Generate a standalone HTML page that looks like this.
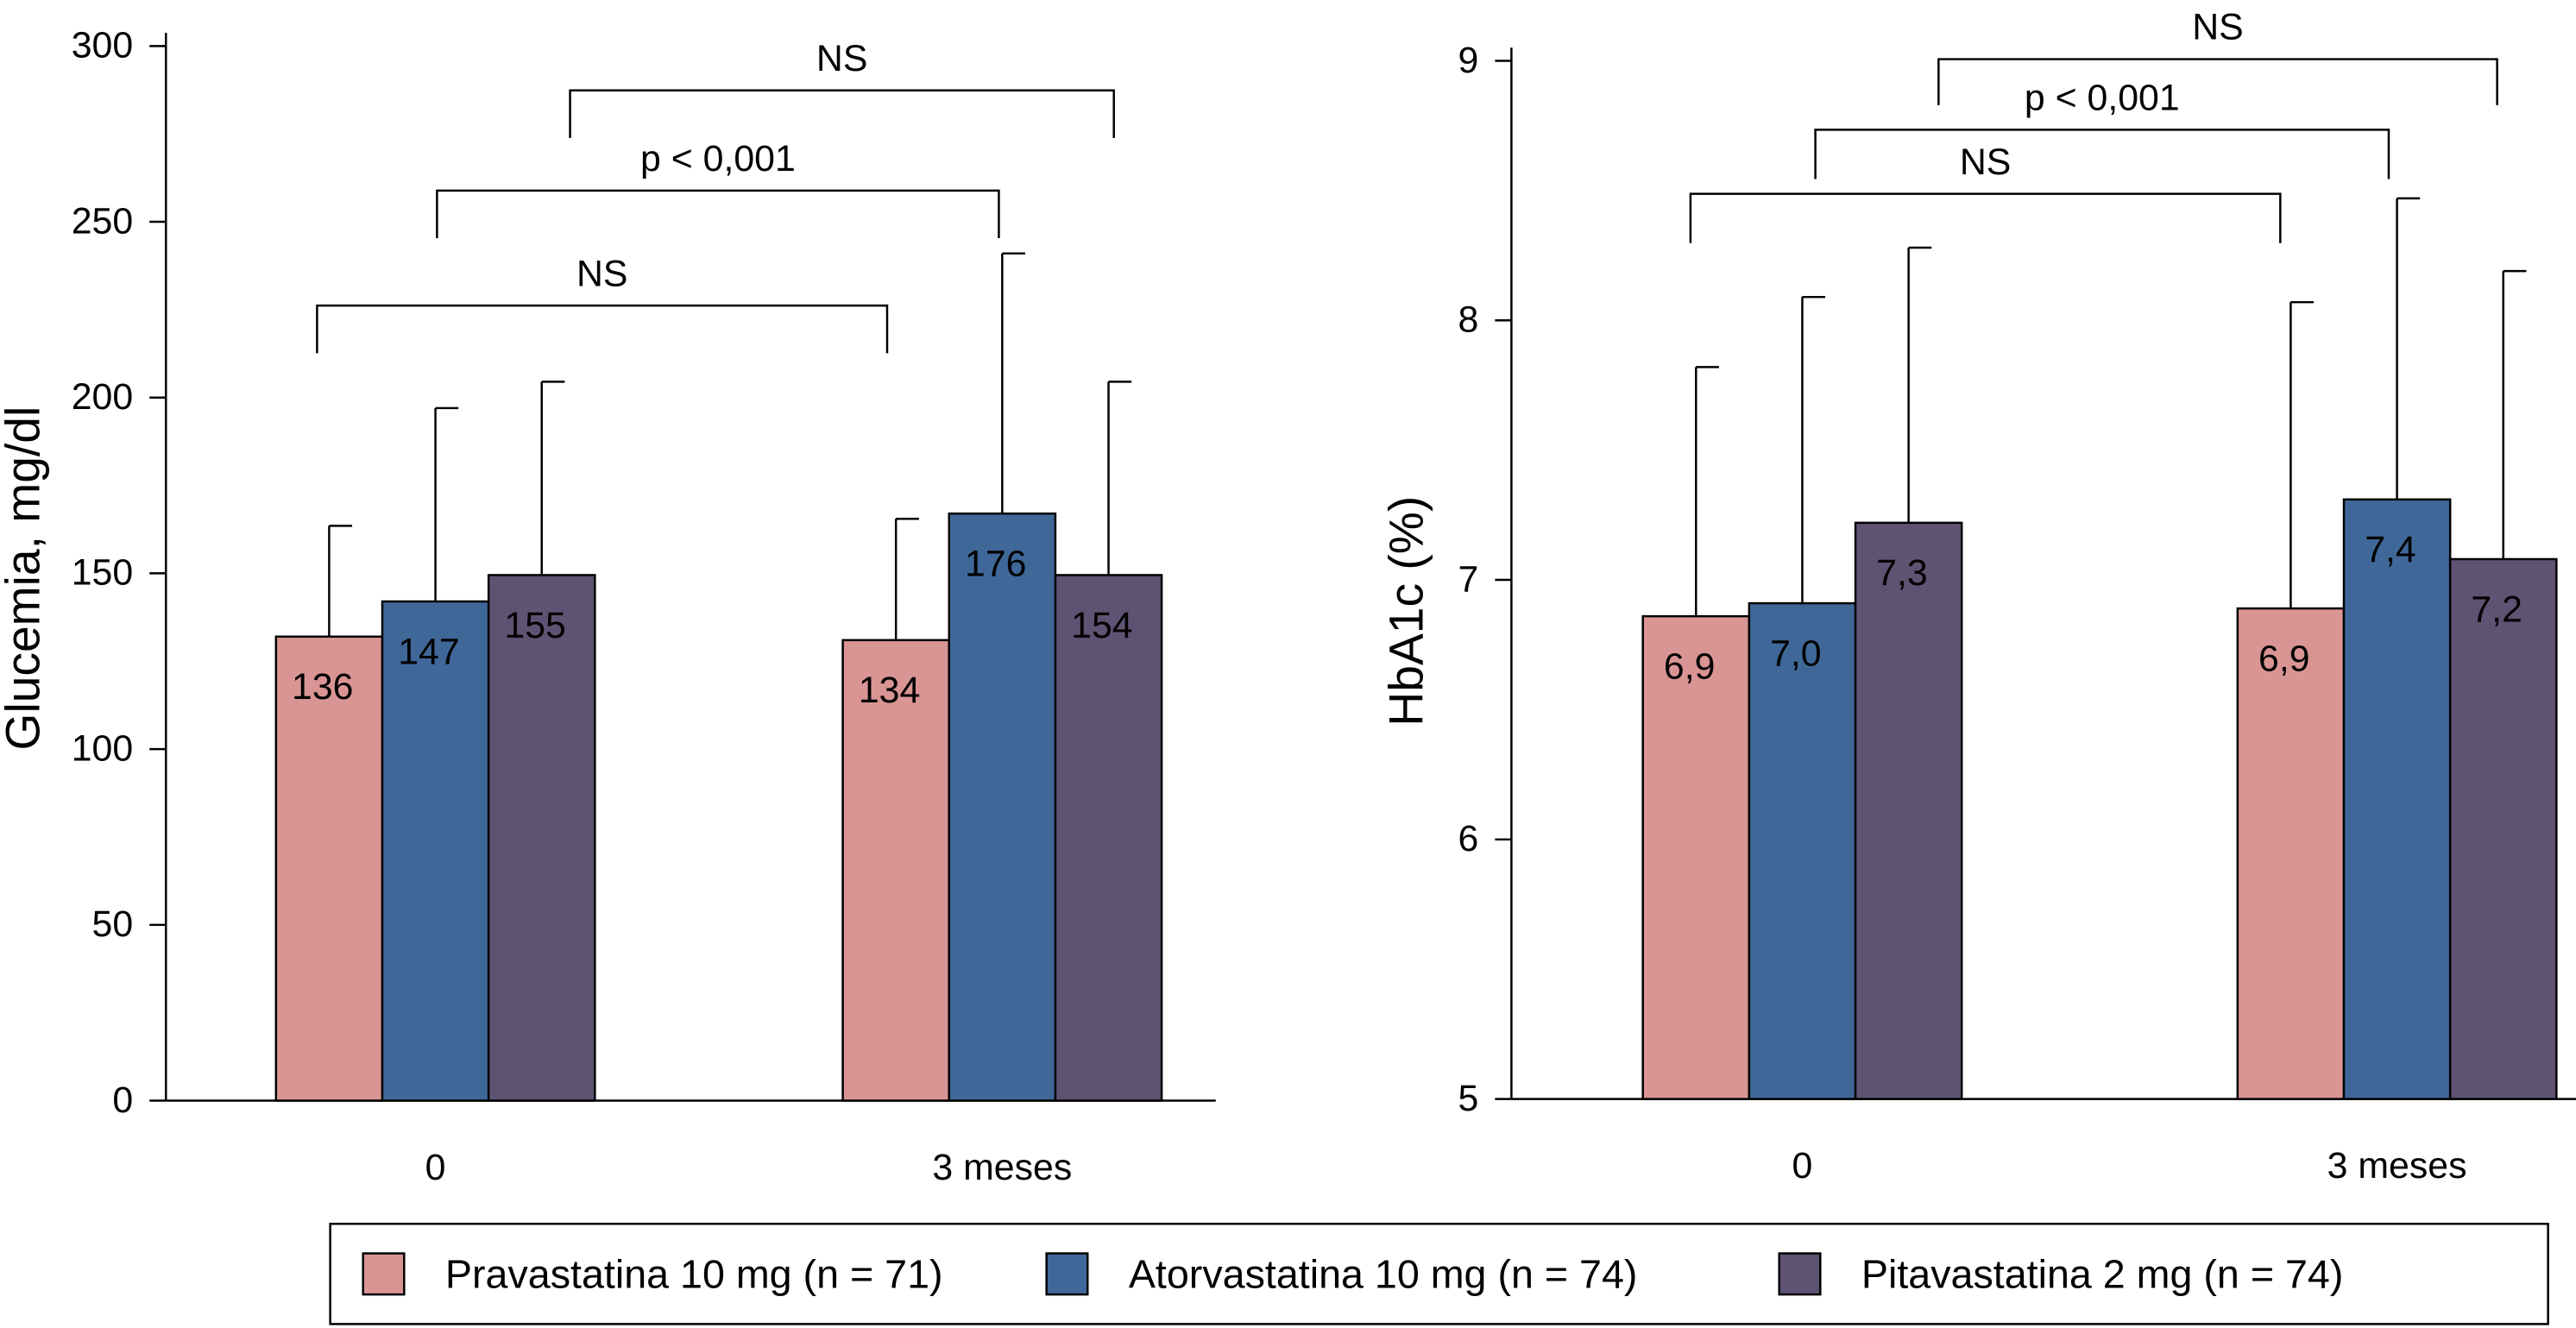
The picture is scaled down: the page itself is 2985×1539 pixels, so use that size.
<!DOCTYPE html>
<html><head><meta charset="utf-8"><style>
html,body{margin:0;padding:0;background:#fff}
svg{display:block;font-family:"Liberation Sans",Arial,sans-serif}
</style></head><body>
<svg id="chart" width="2985" height="1539" viewBox="0 0 1568 808.4" xmlns="http://www.w3.org/2000/svg">
<g id="root"></g>
</svg>
<script>
const groups = ["0", "3 meses"];
const seriesNames = ["Pravastatina 10 mg (n = 71)", "Atorvastatina 10 mg (n = 74)", "Pitavastatina 2 mg (n = 74)"];
const colors = ["#d99594", "#3f6899", "#5f5373"];
const gluValues = [[132, 142, 149.5], [131, 167, 149.5]];
const gluErr = [[163.5, 197, 204.5], [165.5, 241, 204.5]];
const gluLabels = [["136", "147", "155"], ["134", "176", "154"]];
const gluTicks = [0, 50, 100, 150, 200, 250, 300];
const hbValues = [[6.86, 6.91, 7.22], [6.89, 7.31, 7.08]];
const hbErr = [[7.82, 8.09, 8.28], [8.07, 8.47, 8.19]];
const hbLabels = [["6,9", "7,0", "7,3"], ["6,9", "7,4", "7,2"]];
const hbTicks = [5, 6, 7, 8, 9];

const NS = "http://www.w3.org/2000/svg";
const root = document.getElementById('root');
function el(tag, attrs, parent, text) {
  const e = document.createElementNS(NS, tag);
  for (const k in attrs) e.setAttribute(k, attrs[k]);
  if (text !== undefined) e.textContent = text;
  (parent || root).appendChild(e);
  return e;
}
const FS = 22.5;

function panel(cfg) {
  const g = el('g', {});
  
  
  const y = v => cfg.y0 - (v - cfg.vmin) / (cfg.vmax - cfg.vmin) * (cfg.y0 - cfg.y1);
  const ax = el('line', {x1: cfg.ax, y1: cfg.y1 - 8, x2: cfg.ax, y2: cfg.y0, stroke: '#000', 'stroke-width': 1.3}, g);
  
  
  const xl = el('line', {x1: cfg.ax, y1: cfg.y0, x2: cfg.xend, y2: cfg.y0, stroke: '#000', 'stroke-width': 1.3}, g);
  
  
  cfg.ticks.forEach(t => {
    el('line', {x1: cfg.ax - 10, y1: y(t), x2: cfg.ax, y2: y(t), stroke: '#000', 'stroke-width': 1.3}, g);
    const tl = el('text', {x: cfg.ax - 20, y: y(t) + 7, 'text-anchor': 'end', 'font-size': FS}, g, String(t));
    
    
  });
  const yt = el('text', {x: 0, y: 0, 'text-anchor': 'middle', 'font-size': 29, transform: `translate(${cfg.titleX},${cfg.titleY}) rotate(-90)`}, g, cfg.title);
  
  
  groups.forEach((gn, gi) => {
    const gl = el('text', {x: cfg.groupX[gi] + cfg.bw * 1.5, y: cfg.y0 + 48, 'text-anchor': 'middle', 'font-size': FS}, g, gn);
    
    
    cfg.values[gi].forEach((v, si) => {
      const x = cfg.groupX[gi] + si * cfg.bw;
      const cx = x + cfg.bw / 2;
      const eb = el('path', {d: `M${cx},${y(v)}V${y(cfg.err[gi][si])}M${cx},${y(cfg.err[gi][si])}H${cx + 14}`, stroke: '#000', 'stroke-width': 1.3, fill: 'none'}, g);
      
      
      const r = el('rect', {x: x, y: y(v), width: cfg.bw, height: cfg.y0 - y(v), fill: colors[si], stroke: '#000', 'stroke-width': 1.3}, g);
      
      
      const lb = el('text', {x: cx - 4, y: y(v) + 38, 'text-anchor': 'middle', 'font-size': FS}, g, cfg.labels[gi][si]);
      
      
    });
  });
  cfg.brackets.forEach(b => {
    const p = el('path', {d: `M${b[0]},${b[3]}V${b[2]}H${b[1]}V${b[4]}`, stroke: '#000', 'stroke-width': 1.3, fill: 'none'}, g);
    
    
    const t = el('text', {x: (b[0] + b[1]) / 2, y: b[2] - 12, 'text-anchor': 'middle', 'font-size': FS}, g, b[5]);
    
    
  });
}

panel({name: 'glucemia-chart', ax: 101, xend: 740, y0: 670, y1: 28, vmin: 0, vmax: 300, ticks: gluTicks,
  title: 'Glucemia, mg/dl', titleX: 24, titleY: 352, groupX: [168, 513], bw: 64.7,
  values: gluValues, err: gluErr, labels: gluLabels,
  brackets: [[193, 540, 186, 215, 215, 'NS'], [266, 608, 116, 145, 145, 'p < 0,001'], [347, 678, 55, 84, 84, 'NS']]});
panel({name: 'hba1c-chart', ax: 920, xend: 1568, y0: 669, y1: 37, vmin: 5, vmax: 9, ticks: hbTicks,
  title: 'HbA1c (%)', titleX: 866, titleY: 372, groupX: [1000, 1362], bw: 64.7,
  values: hbValues, err: hbErr, labels: hbLabels,
  brackets: [[1029, 1388, 118, 148, 148, 'NS'], [1105, 1454, 79, 109, 109, 'p < 0,001'], [1180, 1520, 36, 64, 64, 'NS']]});

const lg = el('g', {});


el('rect', {x: 201, y: 745, width: 1350, height: 61, fill: '#fff', stroke: '#000', 'stroke-width': 1.3}, lg);
const lx = [221, 637, 1083];
seriesNames.forEach((n, i) => {
  const s = el('rect', {x: lx[i], y: 763, width: 25, height: 25, fill: colors[i], stroke: '#000', 'stroke-width': 1.3}, lg);
  
  
  const t = el('text', {x: lx[i] + 50, y: 784, 'font-size': 24.5}, lg, n);
  
  
});
</script>
</body></html>
